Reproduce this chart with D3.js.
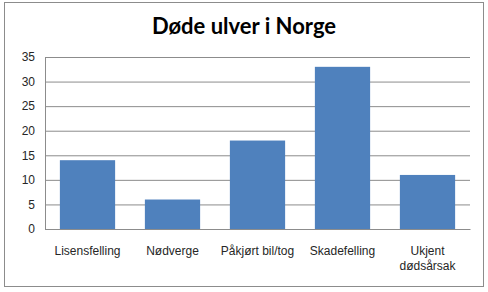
<!DOCTYPE html>
<html>
<head>
<meta charset="utf-8">
<style>
  body { margin: 0; background: #fff; }
  svg { display: block; font-family: Lato, 'Open Sans', sans-serif; }
  .y .domain { display: none; }
  .y .tick line { stroke: #8c8c8c; }
  .y .tick text { font-size: 12px; fill: #262626; }
  .x .tick line { display: none; }
  .x .domain { stroke: #8c8c8c; }
  .x .tick text { font-size: 12px; fill: #262626; }
</style>
</head>
<body>
<svg width="488" height="292"></svg>
<script src="https://d3js.org/d3.v7.min.js"></script>
<script>
const categories = ["Lisensfelling", "Nødverge", "Påkjørt bil/tog", "Skadefelling", "Ukjent dødsårsak"];
const values = [14, 6, 18, 33, 11];
const yTicks = [0, 5, 10, 15, 20, 25, 30, 35];

const svg = d3.select("svg");
const margin = { top: 57, right: 18, bottom: 63, left: 45 };
const width = 488, height = 292;

// chart frame
svg.append("rect")
  .attr("x", 4.5).attr("y", 2.5)
  .attr("width", 479).attr("height", 284)
  .attr("fill", "#fff")
  .attr("stroke", "#8c8c8c");

svg.append("text")
  .attr("x", 244).attr("y", 34)
  .attr("text-anchor", "middle")
  .style("font-size", "22px")
  .style("font-weight", "bold")
  .text("Døde ulver i Norge");

const x = d3.scaleBand()
  .domain(categories)
  .range([margin.left, width - margin.right])
  .paddingInner(0.35)
  .paddingOuter(0.175);

const y = d3.scaleLinear()
  .domain([0, 35])
  .range([height - margin.bottom, margin.top]);

svg.append("g")
  .attr("class", "y axis")
  .attr("transform", `translate(${margin.left},0)`)
  .call(d3.axisLeft(y).tickValues(yTicks)
    .tickSize(-(width - margin.right - margin.left))
    .tickPadding(10));

// left axis line
svg.append("line")
  .attr("x1", margin.left + 0.5).attr("x2", margin.left + 0.5)
  .attr("y1", y(35)).attr("y2", y(0))
  .attr("stroke", "#8c8c8c");

svg.selectAll(".bar")
  .data(values)
  .join("rect")
  .attr("class", "bar")
  .attr("x", (d, i) => x(categories[i]))
  .attr("y", d => y(d))
  .attr("width", x.bandwidth())
  .attr("height", d => y(0) - y(d))
  .attr("fill", "#4f81bd");

const xAxis = svg.append("g")
  .attr("class", "x axis")
  .attr("transform", `translate(0,${y(0)})`)
  .call(d3.axisBottom(x).tickSizeOuter(0).tickPadding(11));

// wrap the last label onto two lines
xAxis.selectAll(".tick text").each(function (d) {
  const t = d3.select(this);
  if (d === "Ukjent dødsårsak") {
    t.text(null);
    t.append("tspan").attr("x", 0).attr("dy", "0.71em").text("Ukjent");
    t.append("tspan").attr("x", 0).attr("dy", "1.25em").text("dødsårsak");
    t.attr("dy", null);
  }
});
</script>
</body>
</html>
